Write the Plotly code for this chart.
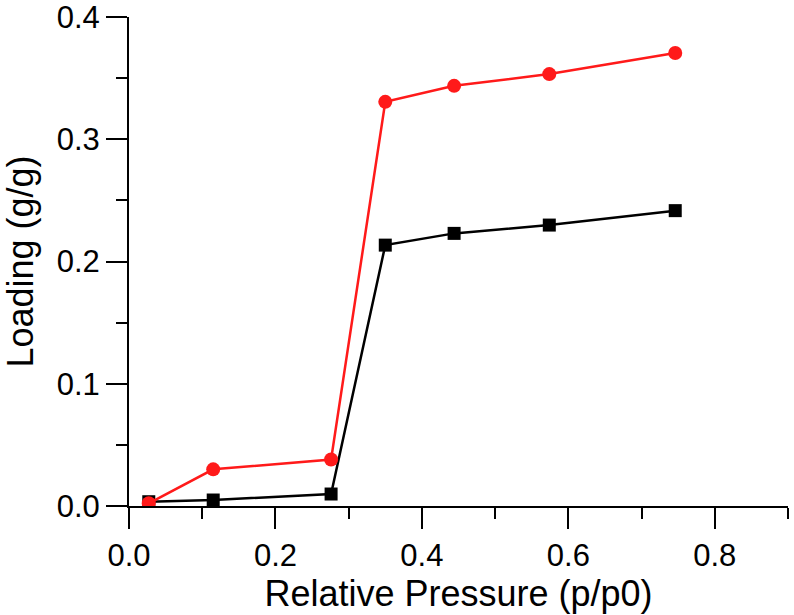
import plotly.graph_objects as go

pressure = [0.027, 0.115, 0.276, 0.350, 0.444, 0.574, 0.746]
loading_black = [0.0035, 0.0049, 0.0098, 0.2134, 0.2230, 0.2298, 0.2416]
loading_red = [0.0022, 0.0300, 0.0380, 0.3306, 0.3437, 0.3533, 0.3705]

fig = go.Figure()
fig.add_trace(go.Scatter(
    x=pressure, y=loading_black, mode="lines+markers",
    line=dict(color="#000000", width=2.5),
    marker=dict(symbol="square", size=13, color="#000000"),
    showlegend=False,
))
fig.add_trace(go.Scatter(
    x=pressure, y=loading_red, mode="lines+markers",
    line=dict(color="#FF1A1A", width=2.5),
    marker=dict(symbol="circle", size=14, color="#FF1A1A"),
    showlegend=False,
))

font_family = "Liberation Sans, Arial, sans-serif"
axis_common = dict(
    showline=True, linewidth=2, linecolor="black",
    ticks="outside", ticklen=21, tickwidth=2, tickcolor="black",
    showgrid=False, zeroline=False, automargin=False,
    ticklabeloverflow="allow",
    tickfont=dict(family=font_family, size=31, color="black"),
)

fig.update_xaxes(
    range=[0, 0.9], dtick=0.2, tick0=0, tickformat=".1f",
    minor=dict(ticks="outside", ticklen=11, tickwidth=2, tickcolor="black", dtick=0.1, tick0=0),
    title=dict(text="Relative Pressure (p/p0)", font=dict(family=font_family, size=36, color="black"), standoff=1),
    **axis_common,
)
fig.update_yaxes(
    range=[0, 0.4], dtick=0.1, tick0=0, tickformat=".1f",
    minor=dict(ticks="outside", ticklen=11, tickwidth=2, tickcolor="black", dtick=0.05, tick0=0),
    title=dict(text="Loading (g/g)", font=dict(family=font_family, size=36, color="black"), standoff=14),
    **axis_common,
)

fig.update_layout(
    width=794, height=615,
    margin=dict(l=129, r=6, t=17, b=109, autoexpand=False),
    paper_bgcolor="white", plot_bgcolor="white",
    font=dict(family=font_family, color="black"),
)

fig.write_html(
    "out.html",
    config={"displayModeBar": False},
    post_script="document.body.style.margin='0';document.body.style.overflow='hidden';",
)
